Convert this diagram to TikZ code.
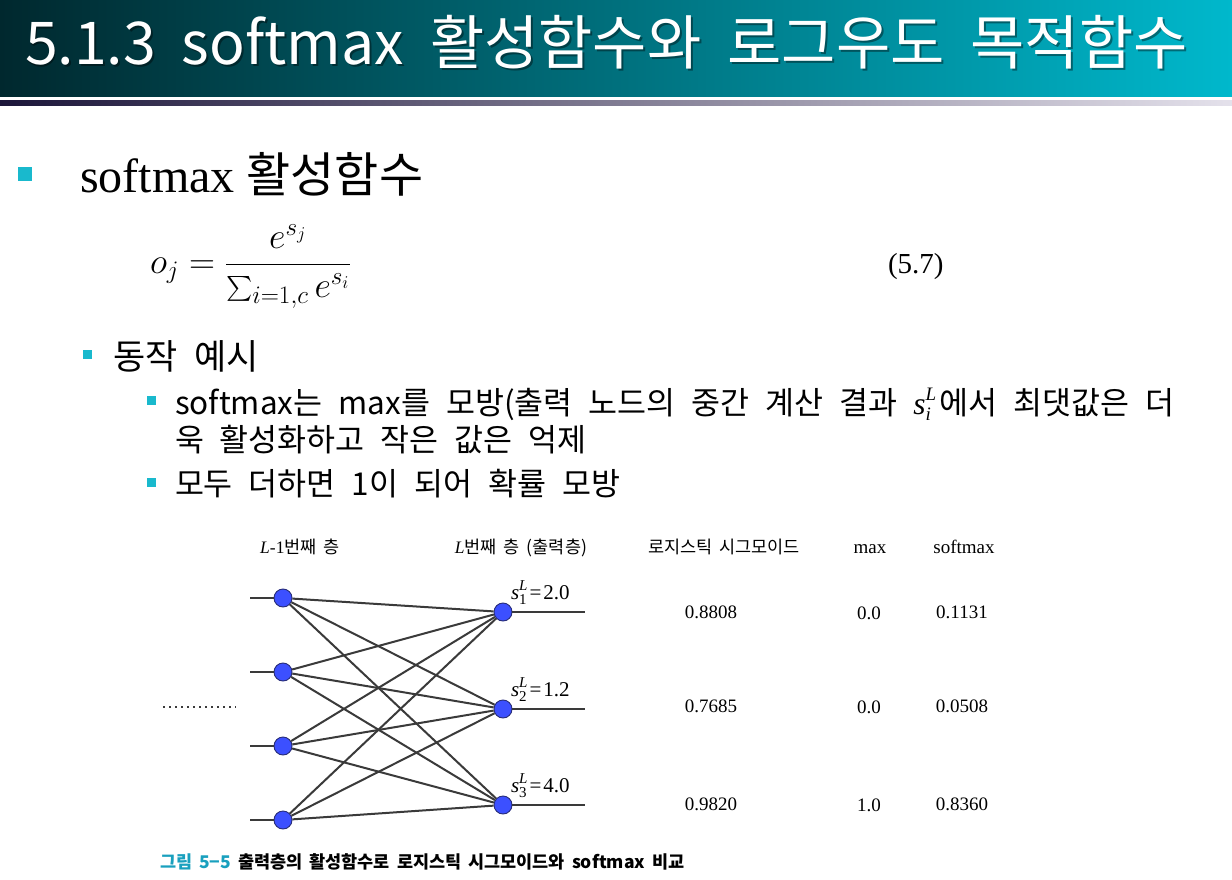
\RequirePackage{fix-cm}
\documentclass[tikz,border=0pt]{standalone}
\usepackage{exscale}
\usepackage{fontspec}
\setmainfont{Liberation Serif}
\newfontfamily\kr{Noto Sans CJK KR}
\newfontfamily\tms{Liberation Serif}

\definecolor{barL}{RGB}{0,40,46}
\definecolor{barR}{RGB}{0,184,204}
\definecolor{lineL}{RGB}{28,22,58}
\definecolor{lineR}{RGB}{228,225,235}
\definecolor{bul}{RGB}{25,185,205}
\definecolor{nodeblue}{RGB}{60,80,255}
\definecolor{nodeedge}{RGB}{40,45,120}
\definecolor{wirecol}{RGB}{58,58,58}
\definecolor{capcyan}{RGB}{25,160,190}

% Korean text at a given size with a fixed word gap
\newcommand{\krsize}[2]{\kr\fontsize{#1}{#1}\selectfont\spaceskip=#2pt\relax}
% s^L_k = value, set in Times
\newcommand{\slab}[2]{\textit{s}\rlap{\raisebox{-0.25em}{\fontsize{15}{15}\selectfont #1}}\raisebox{0.42em}{\fontsize{15}{15}\selectfont\textit{L}}\kern2pt=\kern2pt#2}

\begin{document}
\begin{tikzpicture}[x=1pt,y=-1pt,
  txt/.style={inner sep=0pt, outer sep=0pt, anchor=base west},
  ctr/.style={inner sep=0pt, outer sep=0pt, anchor=base},
  neuron/.style={circle, fill=nodeblue, draw=nodeedge, line width=0.9pt, minimum size=18pt, inner sep=0pt},
  wire/.style={draw=wirecol, line width=2pt},
  stub/.style={draw=wirecol, line width=2.6pt},
  bulletsq/.style={fill=bul, inner sep=0pt, minimum size=#1, anchor=north west},
  figlabel/.style={ctr, font=\krsize{17.5}{7}},
  val/.style={ctr, font=\tms\fontsize{19}{22}\selectfont},
]
\useasboundingbox (0,0) rectangle (1232,880);
\fill[white] (0,0) rectangle (1232,880);

% header bar and rule
\shade[left color=barL, right color=barR] (0,0) rectangle (1232,97);
\shade[left color=lineL, right color=lineR] (0,100.5) rectangle (1232,106);
% title with a soft drop shadow
\node[txt, text=black, opacity=0.4] (titleshadow) at (27,67) {\krsize{59}{26}5.1.3 softmax 활성함수와 로그우도 목적함수};
\node[txt, text=white] (title) at (25,65) {\krsize{59}{26}5.1.3 softmax 활성함수와 로그우도 목적함수};

% first level
\node[bulletsq=14pt] (b1) at (18,167) {};
\node[txt] (t1) at (80,193) {\fontsize{48}{56}\selectfont{\tms softmax }{\kr 활성함수}};

% equation
\node[txt] (eq) at (150,273) {\fontsize{36}{38}\selectfont $\displaystyle o_j=\frac{e^{s_j}}{\textstyle\sum_{i=1,c}e^{s_i}}$};
\node[txt] (eqno) at (888,273) {\tms\fontsize{29}{32}\selectfont (5.7)};

% second level
\node[bulletsq=9pt] (b2) at (83,350) {};
\node[txt] (t2) at (113,369) {\krsize{35}{17}동작 예시};

% third level
\node[bulletsq=9pt] (b3) at (147,396) {};
\node[txt] (t3a) at (175,414) {\krsize{31.5}{16}softmax는 max를 모방(출력 노드의 중간 계산 결과 {\tms\textit{s}\rlap{\raisebox{-0.22em}{\fontsize{19}{19}\selectfont\textit{i}}}\raisebox{0.42em}{\fontsize{19}{19}\selectfont\textit{L}}}\kern3pt에서 최댓값은 더};
\node[txt] (t3b) at (175,451) {\krsize{31.5}{16}욱 활성화하고 작은 값은 억제};
\node[bulletsq=9pt] (b4) at (147,478) {};
\node[txt] (t4) at (175,495) {\krsize{31.5}{16}모두 더하면 1이 되어 확률 모방};

% column headings
\node[figlabel] (hL1) at (300,553) {{\tms\textit{L}-1}번째 층};
\node[figlabel] (hL) at (521,553) {{\tms\textit{L}}번째 층 (출력층)};
\node[figlabel] (hsig) at (724,553) {로지스틱 시그모이드};
\node[val] (hmax) at (870,553) {max};
\node[val] (hsm) at (964,553) {softmax};

% layer L-1
\node[neuron] (l1) at (283,598) {};
\node[neuron] (l2) at (283,672) {};
\node[neuron] (l3) at (283,746) {};
\node[neuron] (l4) at (283,820) {};
% layer L
\node[neuron] (r1) at (503,612) {};
\node[neuron] (r2) at (503,709) {};
\node[neuron] (r3) at (503,805) {};

\foreach \i in {1,...,4} {
  \coordinate (in\i) at (250,0 |- l\i);
  \draw[stub] (in\i) -- (l\i.west);
}
\foreach \j in {1,2,3} {
  \coordinate (out\j) at (585,0 |- r\j);
  \draw[stub] (r\j.east) -- (out\j);
}
\foreach \i in {1,...,4} \foreach \j in {1,2,3} \draw[wire] (l\i) -- (r\j);

% more neurons above
\coordinate (dotsA) at (163,707);
\coordinate (dotsB) at (236,707);
\draw[wirecol, line width=1.6pt, dash pattern=on 1.6pt off 4.4pt] (dotsA) -- (dotsB);

% output values
\node[txt, font=\tms\fontsize{21}{24}\selectfont] (s1) at (511,599) {\slab{1}{2.0}};
\node[txt, font=\tms\fontsize{21}{24}\selectfont] (s2) at (511,696) {\slab{2}{1.2}};
\node[txt, font=\tms\fontsize{21}{24}\selectfont] (s3) at (511,792) {\slab{3}{4.0}};

\node[val] (sig1) at (711,618) {0.8808};
\node[val] (max1) at (869,619) {0.0};
\node[val] (sm1) at (962,618) {0.1131};
\node[val] (sig2) at (711,712) {0.7685};
\node[val] (max2) at (869,713) {0.0};
\node[val] (sm2) at (962,712) {0.0508};
\node[val] (sig3) at (711,810) {0.9820};
\node[val] (max3) at (869,811) {1.0};
\node[val] (sm3) at (962,810) {0.8360};

% caption
\node[txt] (cap) at (160,868) {\krsize{17.5}{7}\bfseries{\color{capcyan}그림 5−5} 출력층의 활성함수로 로지스틱 시그모이드와 softmax 비교};
\end{tikzpicture}
\end{document}
